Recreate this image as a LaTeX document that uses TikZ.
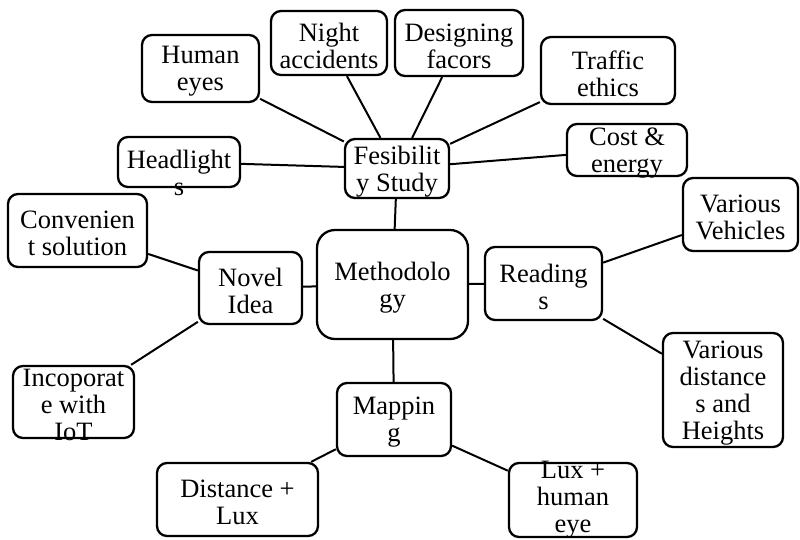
\documentclass[tikz,border=0pt]{standalone}
\usepackage{fontspec}
\setmainfont{Liberation Serif}
\newcommand{\mapfont}{\fontsize{26.5pt}{27pt}\selectfont}
\tikzset{
    box/.style={draw, line width=2.3pt, rounded corners=10pt, inner sep=0pt},
    txt/.style={align=center, font=\mapfont, inner sep=0pt, yshift=-3pt},
    link/.style={line width=2pt},
}
\begin{document}
\begin{tikzpicture}[x=1pt, y=-1pt]
    \useasboundingbox (0,0) rectangle (800,539);

    % centre and its four branches
    \node at (392.5,284.5)[box, rounded corners=18pt, minimum width=151pt, minimum height=109pt, label={[txt]center:Methodolo\\gy}] (method) {};
    \node at (397,168.5)[box, minimum width=104pt, minimum height=59pt, label={[txt]center:Fesibilit\\y Study}] (feas) {};
    \node at (250.5,288)[box, minimum width=103pt, minimum height=72pt, label={[txt]center:Novel\\Idea}] (novel) {};
    \node at (543.5,283.5)[box, minimum width=117pt, minimum height=73pt, label={[txt]center:Reading\\s}] (read) {};
    \node at (394,419.5)[box, minimum width=114pt, minimum height=73pt, label={[txt]center:Mappin\\g}] (map) {};

    % feasibility study
    \node at (200.5,68.5)[box, minimum width=117pt, minimum height=67pt, label={[txt]center:Human\\eyes}] (eyes) {};
    \node at (329,43)[box, minimum width=116pt, minimum height=64pt, label={[txt]center:Night\\accidents}] (night) {};
    \node at (459,43)[box, minimum width=128pt, minimum height=66pt, label={[txt]center:Designing\\facors}] (design) {};
    \node at (608,70.5)[box, minimum width=134pt, minimum height=67pt, label={[txt]center:Traffic\\ethics}] (ethics) {};
    \node at (627,150)[box, minimum width=120pt, minimum height=52pt, label={[txt]center:Cost \&\\energy}] (cost) {};
    \node at (179,162)[box, minimum width=122pt, minimum height=50pt, label={[txt, yshift=-8pt]center:Headlight\\s}] (lights) {};

    % novel idea
    \node at (77.5,230.5)[box, minimum width=139pt, minimum height=73pt, label={[txt]center:Convenien\\t solution}] (conv) {};
    \node at (73.5,402)[box, minimum width=121pt, minimum height=72pt, label={[txt]center:Incoporat\\e with\\IoT}] (iot) {};

    % readings
    \node at (740.5,214.5)[box, minimum width=115pt, minimum height=73pt, label={[txt]center:Various\\Vehicles}] (vehic) {};
    \node at (723,390)[box, minimum width=120pt, minimum height=114pt, label={[txt]center:Various\\distance\\s and\\Heights}] (dist) {};

    % mapping
    \node at (237.5,499.5)[box, minimum width=161pt, minimum height=73pt, label={[txt]center:Distance +\\Lux}] (dlux) {};
    \node at (573,500)[box, minimum width=128pt, minimum height=74pt, label={[txt, yshift=3.5pt]center:Lux +\\human\\eye}] (hlux) {};

    \foreach \a/\b in {method/feas, method/novel, method/read, method/map,
                      feas/eyes, feas/night, feas/design, feas/ethics, feas/cost, feas/lights,
                      novel/conv, novel/iot, read/vehic, read/dist, map/dlux, map/hlux}
        \draw[link] (\a) -- (\b);
\end{tikzpicture}
\end{document}
